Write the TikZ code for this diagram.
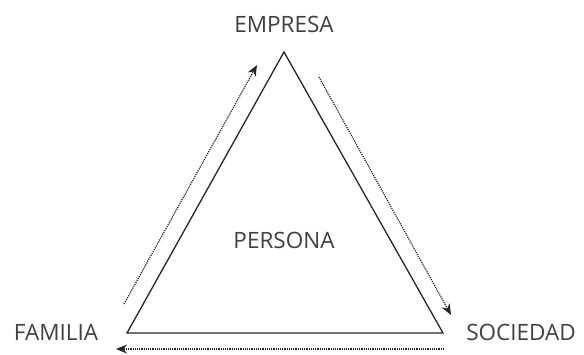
\documentclass[tikz,border=0pt]{standalone}
\usepackage{fontspec}
\setmainfont{Open Sans}
\usetikzlibrary{positioning,arrows.meta}

\begin{document}
\begin{tikzpicture}[
  x=1pt,y=-1pt,
  lbl/.style={font=\fontsize{22.5}{26}\selectfont,text=black!75,inner sep=0pt},
  tri/.style={draw=black!85,line width=1.3pt,line join=miter},
  ar/.style={-{Stealth[length=11pt,width=9pt]},dash pattern=on 1.2pt off 1pt,line width=1.2pt,draw=black!85}
]
\useasboundingbox (0,0) rectangle (584,354);

\coordinate (top) at (284,52);
\coordinate (fam) at (127,333);
\coordinate (soc) at (443,333);

\node[lbl] (emp) at (284,24) {EMPRESA};
\node[lbl] (fl) at (56,332) {FAMILIA};
\node[lbl] (sl) at (521,332) {SOCIEDAD};
\node[lbl] (per) at (284,240) {PERSONA};

\draw[tri] (top) -- (fam) -- (soc) -- cycle;

% flechas
\coordinate (a1) at (124,304); \coordinate (a2) at (257,65);
\coordinate (b1) at (319,77);  \coordinate (b2) at (451,315);
\coordinate (c1) at (444,349); \coordinate (c2) at (116,349);
\draw[ar] (a1) -- (a2);
\draw[ar] (b1) -- (b2);
\draw[ar] (c1) -- (c2);
\end{tikzpicture}
\end{document}
